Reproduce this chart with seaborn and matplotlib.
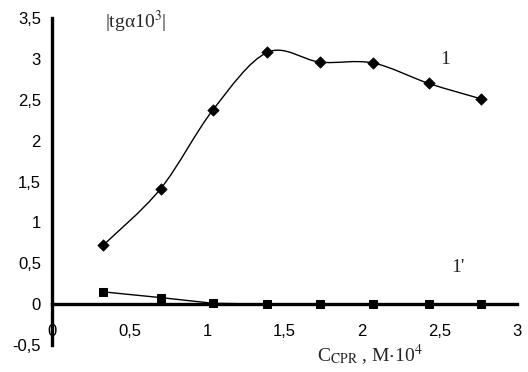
import numpy as np
import pandas as pd
import matplotlib
matplotlib.use('Agg')
import matplotlib.pyplot as plt
from matplotlib.path import Path
from matplotlib.patches import PathPatch
import seaborn as sns

# data
c_cpr = [0.33, 0.70, 1.04, 1.39, 1.73, 2.07, 2.43, 2.77]
tg_1 = [0.72, 1.41, 2.38, 3.08, 2.96, 2.95, 2.70, 2.51]
tg_1p = [0.15, 0.08, 0.01, 0.0, 0.0, 0.0, 0.0, 0.0]
x_ticks = [0, 0.5, 1, 1.5, 2, 2.5, 3]
y_ticks = [-0.5, 0, 0.5, 1, 1.5, 2, 2.5, 3, 3.5]

df = pd.DataFrame({'c': c_cpr, 's1': tg_1, 's1p': tg_1p})

sns.set_style('white')
plt.rcParams['font.family'] = ['Liberation Sans', 'DejaVu Sans']
plt.rcParams['mathtext.fontset'] = 'stix'

fig = plt.figure(figsize=(5.28, 3.72), dpi=100)
ax = fig.add_axes([52 / 528, 1 - 345 / 372, 465 / 528, 327 / 372])


def smooth_path(xs, ys):
    # Excel-like smoothed line: cubic Bezier through the data points
    pts = np.column_stack([xs, ys])
    n = len(pts)
    verts = [pts[0]]
    codes = [Path.MOVETO]
    for i in range(n - 1):
        p0 = pts[i - 1] if i > 0 else pts[i]
        p1, p2 = pts[i], pts[i + 1]
        p3 = pts[i + 2] if i + 2 < n else pts[i + 1]
        verts += [p1 + (p2 - p0) / 6, p2 - (p3 - p1) / 6, p2]
        codes += [Path.CURVE4] * 3
    return Path(verts, codes)


ax.add_patch(PathPatch(smooth_path(df['c'], df['s1']), fill=False,
                       edgecolor='black', lw=1.0))
sns.scatterplot(data=df, x='c', y='s1', marker='D', s=34, color='black',
                edgecolor='black', ax=ax, zorder=3)
sns.lineplot(data=df, x='c', y='s1p', marker='s', markersize=6,
             color='black', lw=1.0, markeredgecolor='black', ax=ax, zorder=3)

ax.set_xlim(0, 3)
ax.set_ylim(-0.5, 3.5)
ax.spines['top'].set_visible(False)
ax.spines['right'].set_visible(False)
ax.spines['left'].set_position(('data', 0))
ax.spines['bottom'].set_position(('data', 0))
for sp in ('left', 'bottom'):
    ax.spines[sp].set_linewidth(2.4)
    ax.spines[sp].set_color('black')

ax.set_xticks(x_ticks)
ax.set_yticks(y_ticks)
ax.set_xticklabels([f'{v:g}'.replace('.', ',') for v in x_ticks])
ax.set_yticklabels([f'{v:g}'.replace('.', ',') for v in y_ticks])
ax.tick_params(axis='both', direction='out', length=4, width=2,
               color='black', labelsize=12, labelcolor='black')
ax.tick_params(axis='x', pad=10)
ax.tick_params(axis='y', pad=4)
ax.set_xlabel('')
ax.set_ylabel('')

serif = ['Liberation Serif', 'DejaVu Serif']
fig.text(105 / 528, 1 - 22 / 372, '|tgα10$^3$|', family=serif,
         fontsize=14, ha='left', va='center')
fig.text(445 / 528, 1 - 60 / 372, '1', family=serif, fontsize=14,
         ha='center', va='center')
fig.text(458 / 528, 1 - 268 / 372, "1'", family=serif, fontsize=14,
         ha='center', va='center')
fig.text(370 / 528, 1 - 355 / 372, r'C$_{\mathrm{CPR}}$ , M$\cdot$10$^4$',
         family=serif, fontsize=14, ha='center', va='center')

fig.savefig('out.png', dpi=100, facecolor='white')
